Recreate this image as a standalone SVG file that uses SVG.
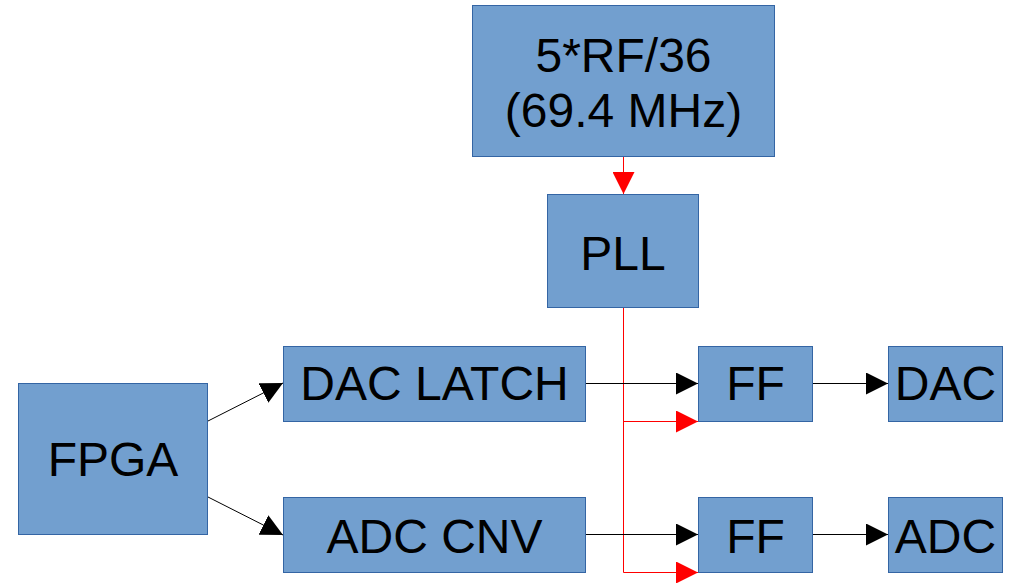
<svg xmlns="http://www.w3.org/2000/svg" width="1012" height="583" viewBox="0 0 1012 583">
  <style>
    .box { fill: #729fcf; stroke: #3465a4; stroke-width: 1; }
    .lbl { font-family: "Liberation Sans", Arial, sans-serif; font-size: 48px; fill: #000; text-anchor: middle; }
    .wire { fill: none; stroke: #000; stroke-width: 1; }
    .clk { fill: none; stroke: #ff0000; stroke-width: 1; }
  </style>
  <defs>
    <marker id="arrowBlack" viewBox="0 0 22 22" refX="22" refY="11" markerWidth="22" markerHeight="22" markerUnits="userSpaceOnUse" orient="auto">
      <path d="M0,0 L22,11 L0,22 Z" fill="#000"/>
    </marker>
    <marker id="arrowRed" viewBox="0 0 22 22" refX="22" refY="11" markerWidth="22" markerHeight="22" markerUnits="userSpaceOnUse" orient="auto">
      <path d="M0,0 L22,11 L0,22 Z" fill="#ff0000"/>
    </marker>
  </defs>

  <g id="connectors">
    <!-- clock distribution -->
    <line class="clk" x1="623.5" y1="157" x2="623.5" y2="194" marker-end="url(#arrowRed)"/>
    <polyline class="clk" points="623.5,307 623.5,572.5 698,572.5" marker-end="url(#arrowRed)"/>
    <polyline class="clk" points="623.5,421.5 698,421.5" marker-end="url(#arrowRed)"/>
    <!-- data paths -->
    <line class="wire" x1="208" y1="421" x2="283" y2="383" marker-end="url(#arrowBlack)"/>
    <line class="wire" x1="208" y1="497" x2="283" y2="535" marker-end="url(#arrowBlack)"/>
    <line class="wire" x1="585" y1="383.5" x2="698" y2="383.5" marker-end="url(#arrowBlack)"/>
    <line class="wire" x1="585" y1="534.5" x2="698" y2="534.5" marker-end="url(#arrowBlack)"/>
    <line class="wire" x1="812" y1="383.5" x2="888" y2="383.5" marker-end="url(#arrowBlack)"/>
    <line class="wire" x1="812" y1="534.5" x2="888" y2="534.5" marker-end="url(#arrowBlack)"/>
  </g>

  <g id="ref-clock">
    <rect class="box" x="472.5" y="5.5" width="302" height="151"/>
    <text class="lbl" x="623.5" y="72">5*RF/36</text>
    <text class="lbl" x="623.5" y="127">(69.4 MHz)</text>
  </g>
  <g id="pll">
    <rect class="box" x="547.5" y="194.5" width="151" height="113"/>
    <text class="lbl" x="623" y="270">PLL</text>
  </g>
  <g id="fpga">
    <rect class="box" x="18.5" y="383.5" width="189" height="151"/>
    <text class="lbl" x="113" y="476">FPGA</text>
  </g>
  <g id="dac-latch">
    <rect class="box" x="283.5" y="346.5" width="302" height="75"/>
    <text class="lbl" x="434.5" y="400">DAC LATCH</text>
  </g>
  <g id="adc-cnv">
    <rect class="box" x="283.5" y="497.5" width="302" height="75"/>
    <text class="lbl" x="434.5" y="553">ADC CNV</text>
  </g>
  <g id="ff-dac">
    <rect class="box" x="698.5" y="346.5" width="114" height="75"/>
    <text class="lbl" x="755.5" y="400">FF</text>
  </g>
  <g id="ff-adc">
    <rect class="box" x="698.5" y="497.5" width="114" height="75"/>
    <text class="lbl" x="755.5" y="553">FF</text>
  </g>
  <g id="dac">
    <rect class="box" x="888.5" y="346.5" width="114" height="75"/>
    <text class="lbl" x="945.5" y="400">DAC</text>
  </g>
  <g id="adc">
    <rect class="box" x="888.5" y="497.5" width="114" height="75"/>
    <text class="lbl" x="945.5" y="553">ADC</text>
  </g>
</svg>
